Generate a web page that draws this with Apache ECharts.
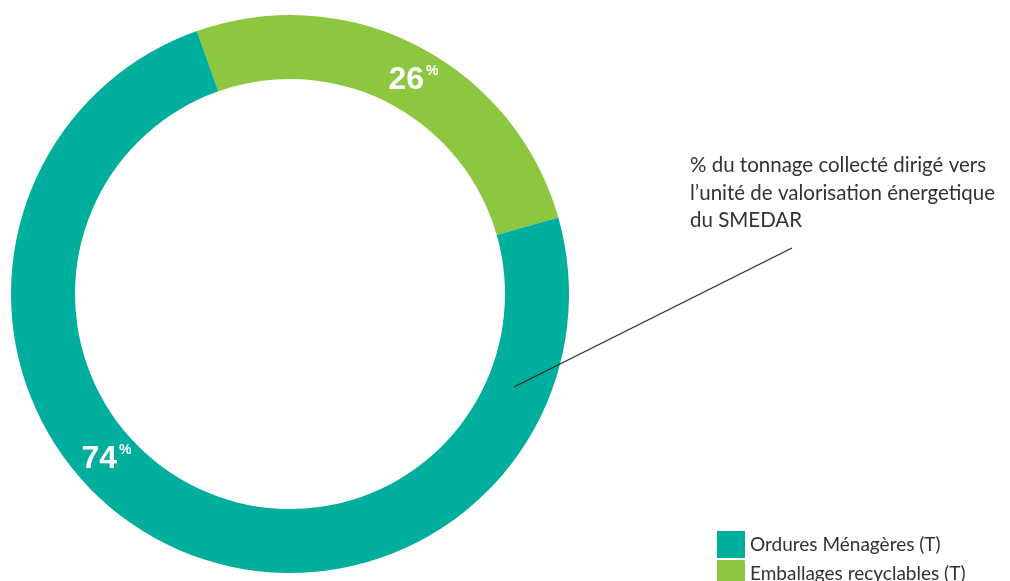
<!DOCTYPE html>
<html>
<head>
<meta charset="utf-8">
<script src="https://cdn.jsdelivr.net/npm/echarts@6/dist/echarts.min.js"></script>
<style>html,body{margin:0;padding:0;background:#fff}#c{width:1010px;height:581px}</style>
</head>
<body>
<div id="c"></div>
<script>
const categories = ['Emballages recyclables (T)', 'Ordures Ménagères (T)'];
const values = [26, 74];
const colors = ['#8DC63F', '#00AE9D'];
const legendOrder = ['Ordures Ménagères (T)', 'Emballages recyclables (T)'];
const annotationLines = ['% du tonnage collecté dirigé vers', 'l\u2019unité de valorisation énergetique', 'du SMEDAR'];

const chart = echarts.init(document.getElementById('c'));
const cx = 290, cy = 294, r0 = 215, r1 = 279;
// label angles (deg clockwise from top) for value labels
const labelAngles = [30, 228];
const rm = (r0 + r1) / 2;
const labelGraphics = values.map((v, i) => {
  const a = labelAngles[i] * Math.PI / 180;
  const x = cx + rm * Math.sin(a), y = cy - rm * Math.cos(a);
  return {
    type: 'text', x: x, y: y, z: 10,
    style: {
      text: '{n|' + v + '}{p|%}',
      rich: {
        n: {fontFamily: 'Liberation Sans', fontWeight: 'bold', fontSize: 32, fill: '#fff', lineHeight: 32},
        p: {fontFamily: 'Liberation Sans', fontWeight: 'bold', fontSize: 14, fill: '#fff', verticalAlign: 'top', lineHeight: 32, padding: [0,0,16,2]}
      },
      align: 'center', verticalAlign: 'middle'
    }
  };
});

const legendBase = {
  orient: 'vertical', left: 712,
  itemWidth: 28, itemHeight: 27, itemGap: 2,
  icon: 'rect',
  textStyle: {fontFamily: 'Lato', fontSize: 19, color: '#333'}
};

chart.setOption({
  animation: false,
  backgroundColor: '#fff',
  legend: legendOrder.map((name, i) => Object.assign({}, legendBase, {data: [name], top: 526 + i * 29})),
  series: [{
    type: 'pie',
    center: [cx, cy],
    radius: [r0, r1],
    startAngle: 109.5,
    clockwise: true,
    silent: true,
    label: {show: false},
    labelLine: {show: false},
    itemStyle: {borderWidth: 0},
    data: categories.map((c, i) => ({name: c, value: values[i], itemStyle: {color: colors[i]}}))
  }],
  graphic: labelGraphics.concat([
    {type: 'line', z: 10, shape: {x1: 514, y1: 387, x2: 792, y2: 248}, style: {stroke: '#222', lineWidth: 1.2}},
    {type: 'text', left: 690, top: 152, z: 10,
     style: {text: annotationLines.join('\n'), fontFamily: 'Lato', fontSize: 20.5, lineHeight: 27.5, fill: '#333'}}
  ])
});
</script>
</body>
</html>
